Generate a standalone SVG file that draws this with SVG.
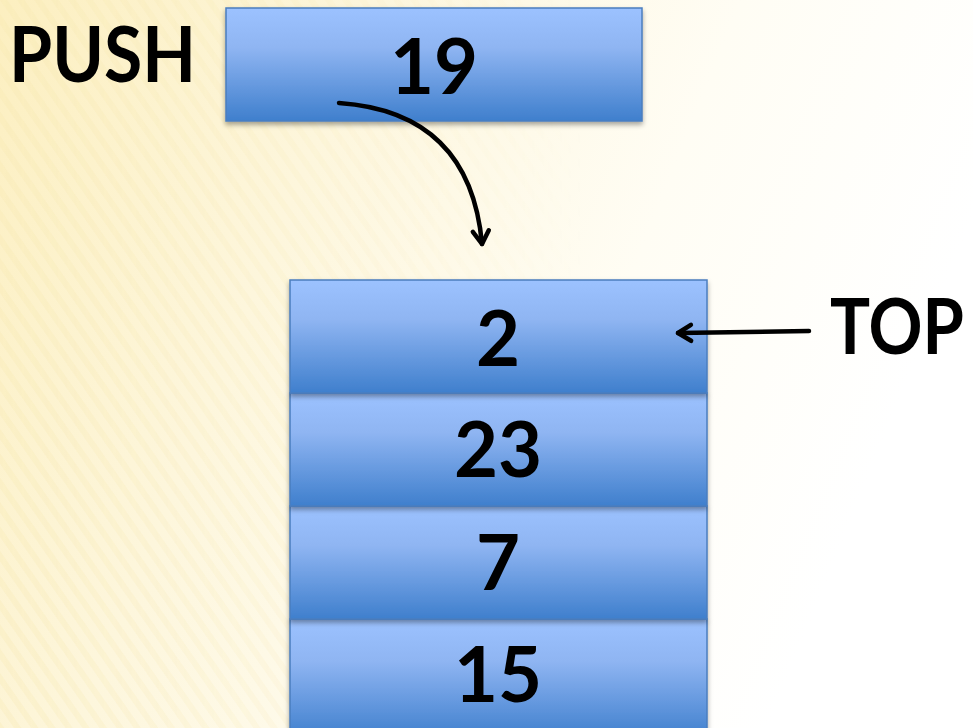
<svg xmlns="http://www.w3.org/2000/svg" width="973" height="728" viewBox="0 0 973 728">
<defs>
<linearGradient id="bg" x1="0" y1="0" x2="1" y2="0.3">
<stop offset="0" stop-color="#fcefc0"/>
<stop offset="0.35" stop-color="#fdf6dc"/>
<stop offset="0.7" stop-color="#fffdf4"/>
<stop offset="1" stop-color="#ffffff"/>
</linearGradient>
<pattern id="stripes" width="14" height="14" patternUnits="userSpaceOnUse" patternTransform="rotate(-35)">
<rect width="6" height="14" fill="#f6e7ad" opacity="0.25"/>
</pattern>
<linearGradient id="fade" x1="0" y1="0" x2="1" y2="0">
<stop offset="0" stop-color="#fff" stop-opacity="1"/>
<stop offset="0.6" stop-color="#fff" stop-opacity="0"/>
</linearGradient>
<mask id="m"><rect width="973" height="728" fill="url(#fade)"/></mask>
<linearGradient id="box" x1="0" y1="0" x2="0" y2="1">
<stop offset="0" stop-color="#9cc2ff"/>
<stop offset="0.35" stop-color="#8fb5f2"/>
<stop offset="1" stop-color="#3f7fcd"/>
</linearGradient>
<filter id="sh" x="-10%" y="-10%" width="120%" height="130%">
<feDropShadow dx="0" dy="3" stdDeviation="2.5" flood-color="#000" flood-opacity="0.35"/>
</filter>
<marker id="arr" viewBox="0 0 24 24" refX="19" refY="12" markerWidth="24" markerHeight="24" markerUnits="userSpaceOnUse" orient="auto">
<path d="M6,4 L19,12 L6,20" fill="none" stroke="#000" stroke-width="4.5" stroke-linecap="round" stroke-linejoin="round"/>
</marker>
</defs>
<style>
.b{fill:url(#box);stroke:#4a7ebf;stroke-width:1.5;filter:url(#sh)}
.t{font-family:Lato,"Open Sans","Liberation Sans",sans-serif;font-weight:bold;font-size:76px;fill:#000}
.c{text-anchor:middle}
.l{fill:none;stroke:#000;stroke-width:4.5;stroke-linecap:round}
</style>
<rect width="973" height="728" fill="url(#bg)"/>
<rect width="973" height="728" fill="url(#stripes)" mask="url(#m)"/>
<g id="push-label"><text class="t" x="9" y="82" textLength="187" lengthAdjust="spacingAndGlyphs">PUSH</text></g>
<g id="node-19"><rect class="b" x="226" y="8" width="416" height="113"/><text class="t c" x="434" y="94">19</text></g>
<g id="node-15"><rect class="b" x="290" y="619" width="417" height="120"/><text class="t c" x="498" y="702">15</text></g>
<g id="node-7"><rect class="b" x="290" y="506" width="417" height="113"/><text class="t c" x="498" y="590">7</text></g>
<g id="node-23"><rect class="b" x="290" y="393" width="417" height="113"/><text class="t c" x="498" y="477">23</text></g>
<g id="node-2"><rect class="b" x="290" y="280" width="417" height="113"/><text class="t c" x="498" y="366">2</text></g>
<g id="top-label"><text class="t" x="830" y="354" textLength="134" lengthAdjust="spacingAndGlyphs">TOP</text></g>
<g id="connectors">
<path class="l" d="M339,103 Q470,112 482,244" marker-end="url(#arr)"/>
<path class="l" d="M809,331 L678,333" marker-end="url(#arr)"/>
</g>
</svg>
